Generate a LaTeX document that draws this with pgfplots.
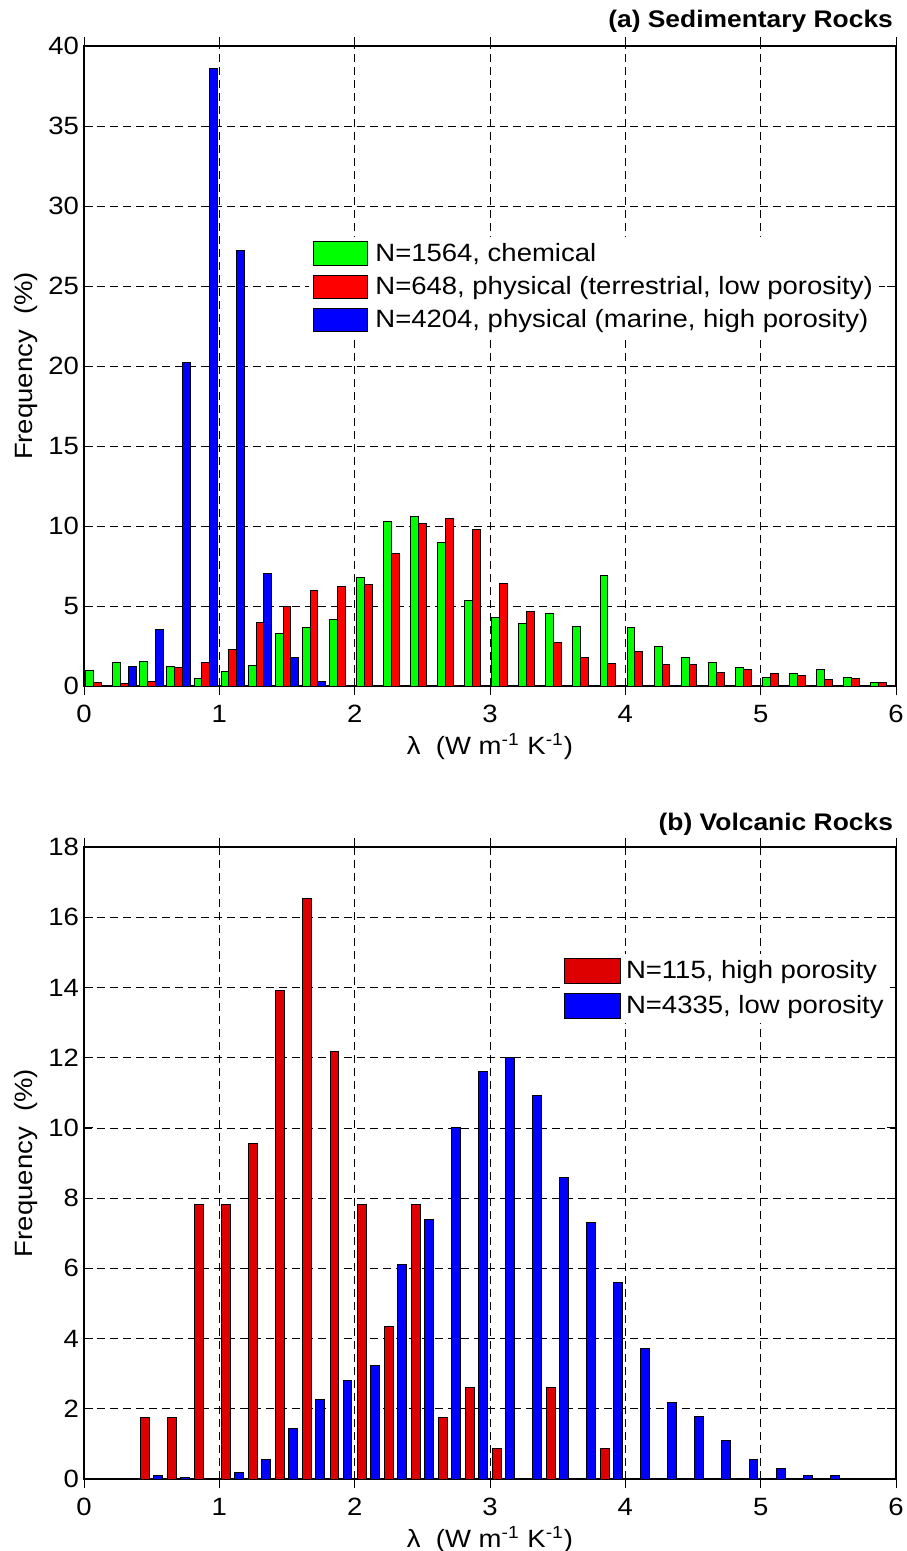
\documentclass[border=0pt]{standalone}
\usepackage{pgfplots}
\pgfplotsset{compat=1.18}
\usepackage{fontspec}
\setmainfont{Liberation Sans}[FakeStretch=1.1]
\definecolor{mgreen}{RGB}{0,255,0}
\definecolor{mred}{RGB}{255,0,0}
\definecolor{mblue}{RGB}{0,0,255}
\definecolor{dred}{RGB}{222,0,0}
\newcommand{\fs}{\fontsize{12.5}{15}\selectfont}

\pgfplotsset{mstyle/.style={
  scale only axis, width=406pt,
  xmin=0, xmax=6, ymin=0,
  xtick={0,1,2,3,4,5,6},
  enlargelimits=false,
  axis line style={line width=0.75pt},
  tick style={black, line width=0.5pt},
  major tick length=4.5pt,
  tick align=inside,
  xtick pos=both, ytick pos=both,
  grid=major,
  major grid style={black, line width=0.4pt, dash pattern=on 4pt off 2.5pt},
  ybar,
  every tick label/.append style={font=\fs},
  /pgf/number format/assume math mode=true,
  xticklabel style={yshift=-1.5pt},
  yticklabel style={xshift=1pt},
  label style={font=\fs},
  xlabel style={at={(rel axis cs:0.5,0)}, anchor=base, yshift=-34pt},
  ylabel style={at={(rel axis cs:0,0.5)}, anchor=base, yshift=25.5pt},
  xlabel={λ\ \ (W m\textsuperscript{-1} K\textsuperscript{-1})},
  ylabel={Frequency\ \ (\%)},
  legend cell align=left,
  every axis plot/.append style={draw=black, line width=0.5pt},
}}

\begin{document}
\begin{tikzpicture}
\useasboundingbox (0,0) rectangle (453pt,-775.5pt);

% ---------------- (a) ----------------
\begin{axis}[mstyle,
  at={(42pt,-343pt)}, anchor=south west,
  height=320pt, ymax=40, ytick={0,5,...,40},
  bar width=0.058,
  title={(a) Sedimentary Rocks},
  title style={at={(rel axis cs:1,1)}, anchor=base east, yshift=3.5pt, xshift=2pt, font=\bfseries\fontsize{12}{14}\selectfont},
  legend style={at={(0.2766,0.702)}, anchor=north west, draw=none, fill=white,
    font=\fs, inner xsep=2pt, inner ysep=2pt, nodes={inner sep=1pt}, row sep=4pt,
    /tikz/every odd column/.append style={column sep=2.5pt}},
  lgA/.style={legend image code/.code={\draw[##1] (0pt,-5.875pt) rectangle (27.2pt,5.875pt);}},
]
\addplot[fill=mgreen, bar shift=-0.058, lgA] coordinates {
(0.1,1.0) (0.3,1.5) (0.5,1.55) (0.7,1.2) (0.9,0.48) (1.1,0.92) (1.3,1.29) (1.5,3.29) (1.7,3.67) (1.9,4.17)
(2.1,6.77) (2.3,10.29) (2.5,10.6) (2.7,9.0) (2.9,5.35) (3.1,4.31) (3.3,3.88) (3.5,4.52) (3.7,3.73) (3.9,6.92)
(4.1,3.67) (4.3,2.44) (4.5,1.79) (4.7,1.5) (4.9,1.15) (5.1,0.56) (5.3,0.77) (5.5,1.06) (5.7,0.56) (5.9,0.19)};
\addlegendentry{N=1564, chemical}
\addplot[fill=mred, bar shift=0, lgA] coordinates {
(0.1,0.19) (0.3,0.15) (0.5,0.27) (0.7,1.15) (0.9,1.5) (1.1,2.29) (1.3,3.96) (1.5,4.98) (1.7,5.98) (1.9,6.19)
(2.1,6.33) (2.3,8.29) (2.5,10.17) (2.7,10.44) (2.9,9.79) (3.1,6.42) (3.3,4.67) (3.5,2.73) (3.7,1.79) (3.9,1.42)
(4.1,2.15) (4.3,1.35) (4.5,1.35) (4.7,0.85) (4.9,1.06) (5.1,0.77) (5.3,0.65) (5.5,0.42) (5.7,0.48) (5.9,0.19)};
\addlegendentry{N=648, physical (terrestrial, low porosity)}
\addplot[fill=mblue, bar shift=0.058, lgA] coordinates {
(0.1,0) (0.3,1.2) (0.5,3.54) (0.7,20.2) (0.9,38.6) (1.1,27.2) (1.3,7.06) (1.5,1.79) (1.7,0.27) (1.9,0)
(2.1,0) (2.3,0) (2.5,0) (2.7,0) (2.9,0) (3.1,0) (3.3,0) (3.5,0) (3.7,0) (3.9,0)
(4.1,0) (4.3,0) (4.5,0) (4.7,0) (4.9,0) (5.1,0) (5.3,0) (5.5,0) (5.7,0) (5.9,0)};
\addlegendentry{N=4204, physical (marine, high porosity)}
\end{axis}

% ---------------- (b) ----------------
\begin{axis}[mstyle,
  at={(42pt,-739.5pt)}, anchor=south west,
  height=316pt, ymax=18, ytick={0,2,...,18},
  bar width=0.066,
  title={(b) Volcanic Rocks},
  title style={at={(rel axis cs:1,1)}, anchor=base east, yshift=2.5pt, xshift=2pt, font=\bfseries\fontsize{12}{14}\selectfont},
  legend style={at={(0.5858,0.832)}, anchor=north west, draw=none, fill=white,
    font=\fs, inner xsep=2pt, inner ysep=2pt, nodes={inner sep=1pt}, row sep=4.5pt,
    /tikz/every odd column/.append style={column sep=1.5pt}},
  lgB/.style={legend image code/.code={\draw[##1] (0pt,-6.25pt) rectangle (28pt,6.25pt);}},
]
\addplot[fill=dred, bar shift=-0.049, lgB] coordinates {
(0.1,0) (0.3,0) (0.5,1.74) (0.7,1.74) (0.9,7.83) (1.1,7.83) (1.3,9.57) (1.5,13.91) (1.7,16.52) (1.9,12.17)
(2.1,7.83) (2.3,4.35) (2.5,7.83) (2.7,1.74) (2.9,2.61) (3.1,0.87) (3.3,0) (3.5,2.61) (3.7,0) (3.9,0.87)
(4.1,0) (4.3,0) (4.5,0) (4.7,0) (4.9,0) (5.1,0) (5.3,0) (5.5,0) (5.7,0) (5.9,0)};
\addlegendentry{N=115, high porosity}
\addplot[fill=mblue, bar shift=0.047, lgB] coordinates {
(0.1,0) (0.3,0) (0.5,0.09) (0.7,0.05) (0.9,0) (1.1,0.19) (1.3,0.57) (1.5,1.45) (1.7,2.27) (1.9,2.8)
(2.1,3.22) (2.3,6.1) (2.5,7.4) (2.7,10.02) (2.9,11.6) (3.1,12.0) (3.3,10.92) (3.5,8.6) (3.7,7.3) (3.9,5.6)
(4.1,3.71) (4.3,2.19) (4.5,1.79) (4.7,1.1) (4.9,0.57) (5.1,0.3) (5.3,0.09) (5.5,0.09) (5.7,0.02) (5.9,0)};
\addlegendentry{N=4335, low porosity}
\end{axis}
\end{tikzpicture}
\end{document}
